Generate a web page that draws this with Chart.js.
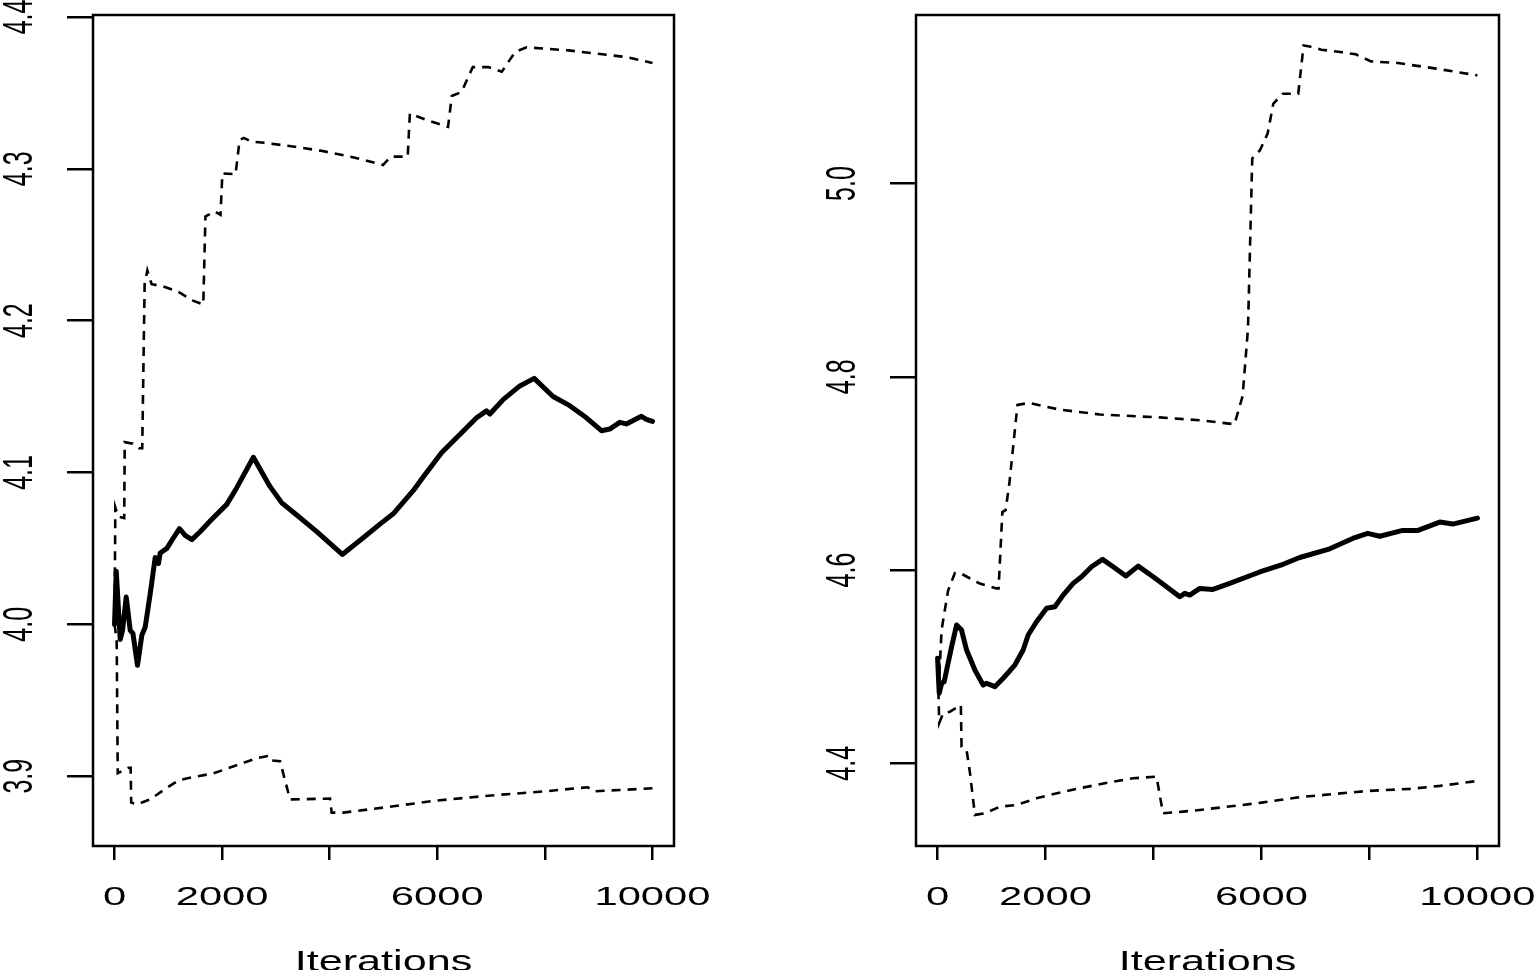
<!DOCTYPE html>
<html>
<head>
<meta charset="utf-8">
<script src="https://cdn.jsdelivr.net/npm/chart.js@4.4.0/dist/chart.umd.min.js"></script>
<style>
  body { margin: 0; background: #fff; }
  .panel { position: absolute; top: 0; width: 768px; height: 970px; }
  #p1 { left: 0; }
  #p2 { left: 768px; }
</style>
</head>
<body>
<div class="panel" id="p1"><canvas id="c1" width="768" height="970"></canvas></div>
<div class="panel" id="p2"><canvas id="c2" width="768" height="970"></canvas></div>
<script>
// tick values
const xTicks = [0, 2000, 4000, 6000, 8000, 10000];
const xLabels = [0, 2000, 6000, 10000];
const leftYTicks = [3.9, 4.0, 4.1, 4.2, 4.3, 4.4];
const rightYTicks = [4.4, 4.6, 4.8, 5.0];
const axisTitle = 'Iterations';

// left panel: [iteration, value]
const leftMean = [[0,4.000],[32,4.035],[106,3.990],[149,3.996],[217,4.018],[292,3.996],[342,3.994],[427,3.973],[509,3.993],[570,3.998],[663,4.020],[756,4.044],[817,4.040],[849,4.047],[973,4.050],[1096,4.057],[1207,4.063],[1313,4.0586],[1437,4.0558],[1591,4.061],[1777,4.068],[2087,4.079],[2273,4.090],[2581,4.110],[2886,4.091],[3109,4.080],[3387,4.072],[3759,4.061],[4234,4.046],[4624,4.057],[4934,4.066],[5181,4.0728],[5552,4.088],[5738,4.097],[6079,4.113],[6419,4.125],[6730,4.136],[6915,4.1406],[6977,4.1385],[7224,4.148],[7534,4.157],[7800,4.162],[8152,4.150],[8462,4.144],[8772,4.136],[9051,4.1275],[9205,4.1286],[9391,4.133],[9515,4.132],[9794,4.137],[9887,4.135],[10000,4.1336]];
const leftUpper = [[0,4.000],[15,4.077],[70,4.071],[180,4.070],[190,4.120],[340,4.119],[450,4.116],[515,4.116],[560,4.224],[610,4.233],[690,4.224],[900,4.2226],[1185,4.219],[1470,4.213],[1650,4.2106],[1690,4.2686],[1860,4.272],[1970,4.2697],[2005,4.297],[2250,4.2964],[2325,4.319],[2400,4.3204],[2540,4.318],[2820,4.317],[3250,4.315],[3820,4.312],[4390,4.308],[4990,4.3025],[5135,4.308],[5450,4.308],[5490,4.3364],[5810,4.332],[6200,4.3276],[6270,4.348],[6450,4.3506],[6660,4.367],[6950,4.367],[7200,4.364],[7340,4.3714],[7450,4.377],[7660,4.380],[8440,4.378],[9510,4.3736],[10000,4.3697]];
const leftLower = [[0,4.000],[40,3.990],[60,3.902],[260,3.9055],[300,3.9055],[310,3.8826],[415,3.8814],[508,3.8826],[663,3.8847],[973,3.8924],[1189,3.8972],[1467,3.8994],[1838,3.9018],[2087,3.9049],[2396,3.9088],[2674,3.9121],[2830,3.9131],[2860,3.9105],[3077,3.9098],[3263,3.8847],[3324,3.8847],[4006,3.8852],[4037,3.876],[4253,3.876],[4995,3.8793],[6000,3.884],[7000,3.8873],[8000,3.890],[8800,3.8927],[8900,3.890],[10000,3.892]];

// right panel: [iteration, value]
const rightMean = [[0,4.5087],[30,4.4725],[74,4.4828],[122,4.4845],[259,4.5207],[352,4.5431],[444,4.5379],[537,4.5172],[691,4.4966],[844,4.481],[907,4.4828],[1061,4.4793],[1215,4.488],[1431,4.5017],[1585,4.5172],[1678,4.5328],[1833,4.5465],[2019,4.5604],[2172,4.562],[2326,4.5741],[2511,4.5862],[2667,4.5931],[2852,4.6034],[3056,4.6111],[3252,4.6034],[3487,4.5938],[3715,4.6041],[3993,4.5931],[4241,4.5828],[4487,4.5724],[4580,4.5759],[4672,4.5741],[4857,4.581],[5100,4.580],[5400,4.586],[5969,4.598],[6400,4.606],[6709,4.613],[7265,4.622],[7700,4.633],[7969,4.638],[8191,4.635],[8617,4.641],[8900,4.641],[9302,4.6497],[9543,4.6476],[10000,4.6538]];
const rightUpper = [[0,4.5087],[40,4.500],[74,4.538],[135,4.559],[196,4.579],[320,4.597],[413,4.597],[783,4.586],[1093,4.581],[1130,4.581],[1200,4.660],[1260,4.662],[1330,4.690],[1480,4.771],[1700,4.773],[2265,4.766],[3006,4.761],[4118,4.758],[4857,4.755],[5500,4.751],[5650,4.780],[5750,4.850],[5829,5.026],[5972,5.0345],[6113,5.0517],[6220,5.0828],[6396,5.093],[6681,5.093],[6780,5.143],[6894,5.142],[7107,5.1386],[7461,5.1362],[7746,5.1338],[8030,5.1265],[8526,5.1248],[9235,5.119],[10000,5.112]];
const rightLower = [[0,4.5087],[30,4.4417],[104,4.4518],[228,4.4534],[431,4.4603],[444,4.417],[537,4.4138],[600,4.390],[691,4.3466],[876,4.3483],[1154,4.3551],[1463,4.3569],[1833,4.3638],[2080,4.3673],[2635,4.3742],[3252,4.381],[3622,4.3845],[4056,4.3862],[4175,4.3483],[4548,4.350],[4857,4.3517],[5969,4.359],[6709,4.365],[7969,4.3714],[8746,4.3735],[9302,4.3766],[10000,4.3817]];

const FONT = '"Liberation Sans", Arial, sans-serif';

const toXY = arr => arr.map(p => ({ x: p[0], y: p[1] }));

// R-style box, stretched labels and axis title
const rLabels = {
  id: 'rLabels',
  afterDraw(chart, args, opts) {
    const { ctx, chartArea: a } = chart;
    const xs = chart.scales.x, ys = chart.scales.y;
    ctx.save();
    ctx.strokeStyle = '#000';
    ctx.lineWidth = 2.5;
    ctx.strokeRect(a.left, a.top, a.right - a.left, a.bottom - a.top);
    ctx.fillStyle = '#000';
    ctx.textAlign = 'center';
    ctx.textBaseline = 'alphabetic';
    ctx.font = '25px ' + FONT;
    xLabels.forEach(v => {
      ctx.save();
      ctx.translate(xs.getPixelForValue(v), 905);
      ctx.scale(1.67, 1);
      ctx.fillText(String(v), 0, 0);
      ctx.restore();
    });
    opts.yLabels.forEach(v => {
      ctx.save();
      ctx.translate(a.left - 61, ys.getPixelForValue(v));
      ctx.rotate(-Math.PI / 2);
      ctx.scale(1, 1.73);
      ctx.fillText(v.toFixed(1), 0, 0);
      ctx.restore();
    });
    ctx.font = '30px ' + FONT;
    ctx.save();
    ctx.translate((a.left + a.right) / 2, 971);
    ctx.scale(1.44, 1);
    ctx.fillText(axisTitle, 0, 0);
    ctx.restore();
    ctx.restore();
  }
};

function makeChart(id, mean, upper, lower, yMin, yMax, yTicks, axisW, padRight) {
  const dash = { borderColor: '#000', borderWidth: 2.6, borderDash: [9, 7], pointRadius: 0, tension: 0, fill: false };
  return new Chart(document.getElementById(id), {
    type: 'line',
    data: {
      datasets: [
        { data: toXY(upper), ...dash },
        { data: toXY(lower), ...dash },
        { data: toXY(mean), borderColor: '#000', borderWidth: 5, pointRadius: 0, tension: 0, fill: false,
          borderCapStyle: 'round', borderJoinStyle: 'round' }
      ]
    },
    options: {
      responsive: false,
      animation: false,
      layout: { padding: { left: 0, top: 15, right: padRight, bottom: 0 } },
      plugins: { legend: { display: false }, tooltip: { enabled: false }, rLabels: { yLabels: yTicks } },
      scales: {
        x: {
          type: 'linear', min: -400, max: 10400,
          afterBuildTicks: s => { s.ticks = xTicks.map(v => ({ value: v })); },
          afterFit: s => { s.height = 124; },
          ticks: { display: false },
          border: { display: false },
          grid: { drawOnChartArea: false, drawTicks: true, tickLength: 14, color: '#000', lineWidth: 2.5 }
        },
        y: {
          type: 'linear', min: yMin, max: yMax,
          afterBuildTicks: s => { s.ticks = yTicks.map(v => ({ value: v })); },
          afterFit: s => { s.width = axisW; },
          ticks: { display: false },
          border: { display: false },
          grid: { drawOnChartArea: false, drawTicks: true, tickLength: 26, color: '#000', lineWidth: 2.5 }
        }
      }
    },
    plugins: [rLabels]
  });
}

makeChart('c1', leftMean, leftUpper, leftLower, 3.854, 4.4013, leftYTicks, 93, 94);
makeChart('c2', rightMean, rightUpper, rightLower, 4.3144, 5.1745, rightYTicks, 148, 37);
</script>
</body>
</html>
